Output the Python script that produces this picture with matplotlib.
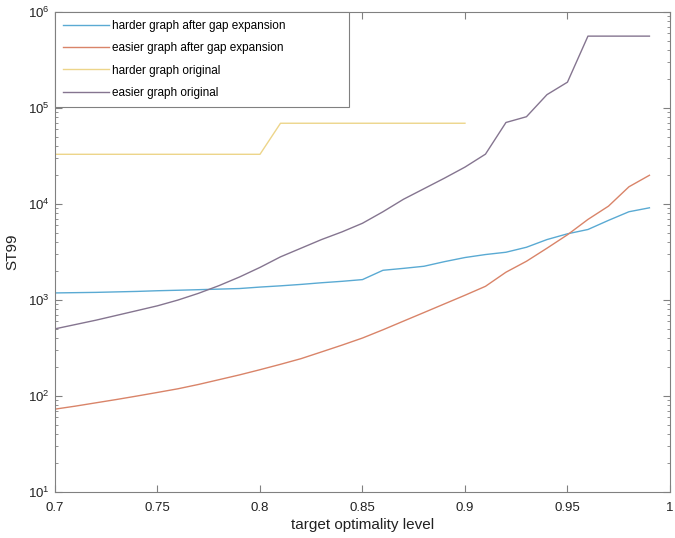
import numpy as np
import matplotlib
matplotlib.use("Agg")
import matplotlib.pyplot as plt
from matplotlib.ticker import LogLocator, FixedLocator, NullFormatter

plt.rcParams["font.family"] = ["Liberation Sans", "DejaVu Sans"]
plt.rcParams["mathtext.fontset"] = "custom"
plt.rcParams["mathtext.rm"] = "Liberation Sans"
plt.rcParams["mathtext.it"] = "Liberation Sans:italic"

# ── Data ──────────────────────────────────────────────────────────────────────

levels = [0.70, 0.71, 0.72, 0.73, 0.74, 0.75, 0.76, 0.77, 0.78, 0.79,
          0.80, 0.81, 0.82, 0.83, 0.84, 0.85, 0.86, 0.87, 0.88, 0.89,
          0.90, 0.91, 0.92, 0.93, 0.94, 0.95, 0.96, 0.97, 0.98, 0.99]

harder_gap = [1186, 1194, 1202, 1216, 1230, 1250, 1265, 1282, 1300, 1318,
              1365, 1406, 1455, 1514, 1567, 1633, 2042, 2138, 2249, 2512,
              2773, 2979, 3148, 3548, 4266, 4898, 5433, 6761, 8318, 9141]

easier_gap = [73, 78.5, 85, 92, 100, 109, 119, 132, 148, 166,
              188, 214, 245, 288, 339, 402, 490, 603, 741, 912,
              1122, 1390, 1950, 2535, 3467, 4786, 6918, 9506, 15136, 19953]

harder_orig_levels = [0.70, 0.71, 0.72, 0.73, 0.74, 0.75, 0.76, 0.77, 0.78, 0.79,
                      0.80, 0.81, 0.82, 0.83, 0.84, 0.85, 0.86, 0.87, 0.88, 0.89, 0.90]
harder_orig = [33000] * 11 + [69500] * 10

easier_orig = [501, 556, 617, 692, 776, 871, 1000, 1175, 1413, 1738,
               2188, 2818, 3467, 4266, 5129, 6310, 8318, 11220, 14450, 18620,
               24270, 33110, 70790, 81280, 138000, 186200, 562000, 562000, 562000, 562000]

x_ticks = [0.7, 0.75, 0.8, 0.85, 0.9, 0.95, 1.0]
x_tick_labels = ["0.7", "0.75", "0.8", "0.85", "0.9", "0.95", "1"]

COLOURS = {
    "harder graph after gap expansion": "#5AAAD3",
    "easier graph after gap expansion": "#D98469",
    "harder graph original":            "#EDD58A",
    "easier graph original":            "#857590",
}

# ── Plot ──────────────────────────────────────────────────────────────────────

fig = plt.figure(figsize=(6.75, 5.38), dpi=100)
ax = fig.add_axes([0.0815, 0.0855, 0.911, 0.892])

ax.plot(levels, harder_gap, color=COLOURS["harder graph after gap expansion"],
        lw=1.0, label="harder graph after gap expansion")
ax.plot(levels, easier_gap, color=COLOURS["easier graph after gap expansion"],
        lw=1.0, label="easier graph after gap expansion")
ax.plot(harder_orig_levels, harder_orig, color=COLOURS["harder graph original"],
        lw=1.0, label="harder graph original")
ax.plot(levels, easier_orig, color=COLOURS["easier graph original"],
        lw=1.0, label="easier graph original")

ax.set_yscale("log")
ax.set_xlim(0.7, 1.0)
ax.set_ylim(10, 1e6)
ax.xaxis.set_major_locator(FixedLocator(x_ticks))
ax.set_xticklabels(x_tick_labels)
ax.yaxis.set_major_locator(LogLocator(base=10, numticks=10))
ax.yaxis.set_minor_locator(LogLocator(base=10, subs=np.arange(2, 10), numticks=10))
ax.yaxis.set_minor_formatter(NullFormatter())

for sp in ax.spines.values():
    sp.set_color("#808080")
    sp.set_linewidth(0.8)
ax.tick_params(which="both", direction="in", top=True, right=True,
               colors="#808080", labelcolor="#222222", labelsize=9.5)
ax.tick_params(which="major", length=5)
ax.tick_params(which="minor", length=2.5)
ax.tick_params(axis="x", pad=7)
ax.tick_params(axis="y", pad=4)

ax.set_xlabel("target optimality level", fontsize=11, color="#222222", labelpad=3)
ax.set_ylabel("ST99", fontsize=11, color="#222222", labelpad=6)

leg = ax.legend(loc="upper left", bbox_to_anchor=(0.0, 1.0, 0.478, 0.0),
                mode="expand", fontsize=8.5, handlelength=3.9,
                handletextpad=0.3, labelspacing=0.88, borderpad=0.65,
                fancybox=False, framealpha=1.0, borderaxespad=0.0)
leg.get_frame().set_edgecolor("#808080")
leg.get_frame().set_linewidth(0.8)

fig.savefig("out.png", dpi=100)
